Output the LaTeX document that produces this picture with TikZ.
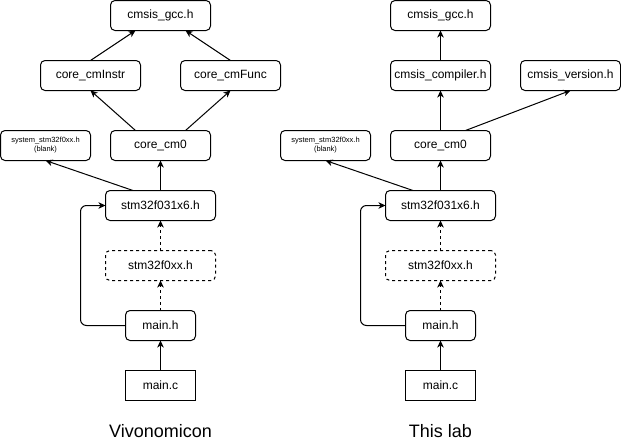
\documentclass[tikz,border=0pt]{standalone}
\usepackage{fontspec}
\setmainfont{Liberation Sans}
\usetikzlibrary{arrows.meta}
\begin{document}
\begin{tikzpicture}[x=1pt,y=-1pt,
  box/.style={draw,line width=1pt,rounded corners=4.5pt,inner sep=0pt,outer sep=0pt,
    minimum width=100pt,minimum height=30pt,font=\fontsize{12}{14}\selectfont,align=center},
  dbox/.style={box,dash pattern=on 3pt off 3pt},
  sbox/.style={box,rounded corners=0pt},
  tiny/.style={box,minimum width=90pt,font=\fontsize{7.5}{9}\selectfont},
  arr/.style={line width=1pt,-{Stealth[length=7pt,width=6.5pt,inset=2pt]}},
  darr/.style={arr,dash pattern=on 3pt off 3pt},
  title/.style={font=\fontsize{18}{20}\selectfont}
]
\useasboundingbox (0,0) rectangle (621,442);
\foreach \s/\dx in {L/0,R/280}{
  \begin{scope}[xshift=\dx pt]
  \node[box] (gcc\s) at (160.5,15.5) {cmsis\_gcc.h};
  \node[tiny] (sys\s) at (45.5,145.5) {system\_stm32f0xx.h\\(blank)};
  \node[box] (cm0\s) at (160.5,145.5) {core\_cm0};
  \node[box,minimum width=110pt] (stm\s) at (160.5,205.5) {stm32f031x6.h};
  \node[dbox,minimum width=110pt] (f0\s) at (160.5,265.5) {stm32f0xx.h};
  \node[box,minimum width=70pt] (mainh\s) at (160.5,325.5) {main.h};
  \node[sbox,minimum width=70pt] (mainc\s) at (160.5,385.5) {main.c};
  \coordinate (loop\s) at (80.5,325.5);
  \end{scope}
  \draw[arr] (stm\s.north) -- (cm0\s.south);
  \draw[arr] ([xshift=-27.5pt]stm\s.north) -- (sys\s.south);
  \draw[darr] (f0\s.north) -- (stm\s.south);
  \draw[darr] (mainh\s.north) -- (f0\s.south);
  \draw[arr] (mainc\s.north) -- (mainh\s.south);
  \draw[arr,rounded corners=6pt] (mainh\s.west) -- (loop\s) |- (stm\s.west);
}
% left
\node[box] (instrL) at (90.5,75.5) {core\_cmInstr};
\node[box] (funcL) at (230.5,75.5) {core\_cmFunc};
\draw[arr] ([xshift=-25pt]cm0L.north) -- (instrL.south);
\draw[arr] ([xshift=25pt]cm0L.north) -- (funcL.south);
\draw[arr] (instrL.north) -- ([xshift=-25pt]gccL.south);
\draw[arr] (funcL.north) -- ([xshift=25pt]gccL.south);
% right
\node[box] (compR) at (440.5,75.5) {cmsis\_compiler.h};
\node[box] (verR) at (570.5,75.5) {cmsis\_version.h};
\draw[arr] (cm0R.north) -- (compR.south);
\draw[arr] (compR.north) -- (gccR.south);
\draw[arr] ([xshift=25pt]cm0R.north) -- (verR.south);
% titles
\node[title] (t1) at (160.5,431) {Vivonomicon};
\node[title] (t2) at (440.5,431) {This lab};
\end{tikzpicture}
\end{document}
